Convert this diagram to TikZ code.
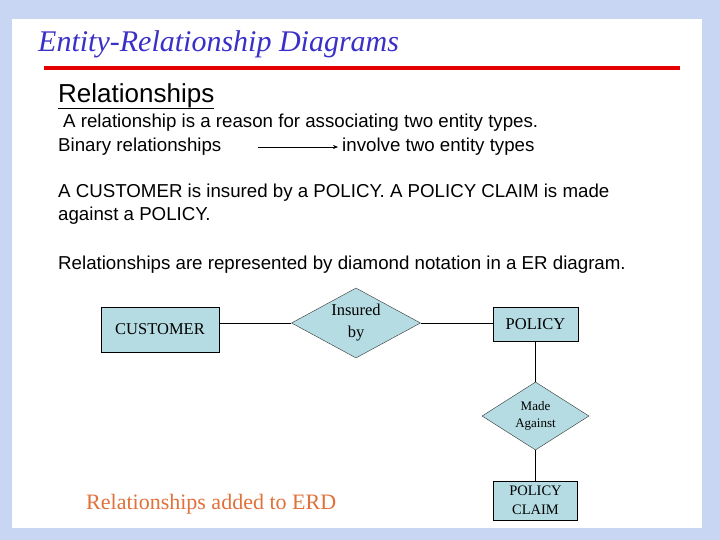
\documentclass[tikz,border=0pt]{standalone}
\usepackage{fontspec}
\setmainfont{Liberation Serif}
\newfontfamily\arialfont{Liberation Sans}
\usetikzlibrary{arrows.meta, positioning, shapes.geometric}

\definecolor{slidebg}{RGB}{200,213,243}
\definecolor{titleblue}{RGB}{58,48,200}
\definecolor{erfill}{RGB}{180,220,226}
\definecolor{captionorange}{RGB}{226,112,58}

\begin{document}
\begin{tikzpicture}[x=1pt, y=-1pt,
    txt/.style={anchor=base west, inner sep=0pt, font=\arialfont\fontsize{18.7}{22}\selectfont},
    entity/.style={draw=black, fill=erfill, inner sep=0pt, align=center, font=\fontsize{16.5}{20}\selectfont},
    rel/.style={diamond, draw=black!80, fill=erfill, inner sep=0pt, align=center, font=\fontsize{16.5}{22}\selectfont},
    link/.style={black, line width=0.9pt}
]

    % Slide background and white page
    \fill[slidebg] (0,0) rectangle (720,540);
    \fill[white] (12,19) rectangle (702,528);
    \useasboundingbox (0,0) rectangle (720,540);

    % Title with red rule
    \node[anchor=base west, inner sep=0pt, text=titleblue, font=\itshape\fontsize{30}{34}\selectfont] (title) at (38,52) {Entity-Relationship Diagrams};
    \fill[red!90!black] (44,66) rectangle (680,70);

    % Heading
    \node[txt, font=\arialfont\fontsize{26}{30}\selectfont] (head) at (58,103) {Relationships};
    \draw[line width=1pt] (head.south west) -- (head.south east);

    % Body text
    \node[txt] (line1) at (63,128) {A relationship is a reason for associating two entity types.};
    \node[txt] (binary) at (58,152) {Binary relationships};
    \node[txt] (involve) at (342,152) {involve two entity types};
    \coordinate (arrtail) at (258,147);
    \draw[-{Stealth[length=5pt,width=4pt]}, line width=0.7pt, shorten >=4pt] (arrtail) -- (arrtail -| involve.west);

    \node[txt] (line3) at (58,197) {A CUSTOMER is insured by a POLICY. A POLICY CLAIM is made};
    \node[txt] (line4) at (58,221) {against a POLICY.};
    \node[txt] (line5) at (58,269) {Relationships are represented by diamond notation in a ER diagram.};

    % ER diagram
    \node[entity, minimum width=118, minimum height=45] (customer) at (160,329.5) {CUSTOMER};
    \node[rel, minimum width=129, minimum height=70, aspect=1.84] (insured) at (356,323) {Insured\\by};
    \node[entity, minimum width=85, minimum height=34] (policy) at (535.5,324.5) {POLICY};
    \node[rel, minimum width=107, minimum height=68, aspect=1.57, font=\fontsize{13}{17}\selectfont] (made) at (535.5,416) {Made\\Against};
    \node[entity, minimum width=84, minimum height=39, font=\fontsize{14.5}{19}\selectfont] (claim) at (535.5,500.5) {POLICY\\CLAIM};

    \draw[link] (customer.east |- insured.west) -- (insured.west);
    \draw[link] (insured.east) -- (insured.east -| policy.west);
    \draw[link] (policy.south) -- (made.north);
    \draw[link] (made.south) -- (claim.north);

    % Caption
    \node[anchor=base west, inner sep=0pt, text=captionorange, font=\fontsize{22}{26}\selectfont] (caption) at (86,509) {Relationships added to ERD};

\end{tikzpicture}
\end{document}
